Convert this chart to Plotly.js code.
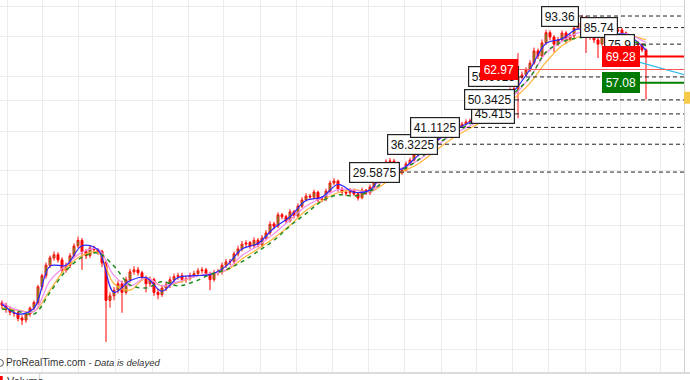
<!DOCTYPE html>
<html>
<head>
<meta charset="utf-8">
<script src="https://cdn.plot.ly/plotly-3.0.1.min.js"></script>
<style>
html,body{margin:0;padding:0;background:#fff;}
#chart{width:690px;height:380px;}
</style>
</head>
<body>
<div id="chart"></div>
<script>
// ---- price bars (one bar per slot) ----
const opens = [11.3,11.1,10.8,10.5,10.5,10.1,9.95,10.4,10.9,11.3,12.7,13.8,14.9,15.7,16.1,15.5,14.4,14.9,16.0,17.2,
17.9,16.5,16.0,16.9,16.7,16.5,15.2,11.5,11.9,12.4,13.0,12.2,13.4,14.2,14.4,14.1,13.6,13.0,13.4,12.2,
12.0,12.6,12.9,13.4,13.7,13.8,13.4,13.5,13.8,14.0,14.3,14.4,14.0,13.4,14.1,14.2,14.9,15.3,15.3,16.2,
16.8,17.4,17.6,17.2,17.9,17.3,18.2,18.9,20.2,19.9,21.6,21.3,20.7,22.1,21.4,23.0,24.1,24.8,24.6,25.5,
24.1,24.3,25.7,27.3,27.7,26.1,25.5,25.4,25.9,25.2,24.5,25.9,25.4,26.5,27.5,28.3,29.6,31.9,32.1,31.7,
29.4,30.0,31.4,32.3,33.6,34.3,35.0,35.7,36.5,37.5,38.3,39.1,40.0,40.6,41.2,41.5,42.1,42.8,43.1,44.0,
44.7,45.7,46.7,47.8,48.9,50.3,51.8,52.6,54.2,54.6,59.4,60.5,62.7,66.0,72.2,69.6,76.6,82.6,80.0,75.9,
78.3,82.4,78.3,80.6,85.4,88.7,92.7,84.2,80.0,78.3,75.9,82.4,80.0,81.6,83.6,84.2,82.4,78.3,77.1,76.6,
75.4,72.7];
const highs = [11.5,11.3,11.0,10.7,10.7,10.3,10.5,11.0,11.5,12.9,14.0,15.2,16.0,16.5,16.4,15.8,15.2,16.3,17.5,18.4,
18.2,16.8,17.2,17.2,16.9,16.7,15.4,12.2,12.7,13.3,13.3,13.7,14.5,14.8,14.7,14.3,13.8,13.7,13.6,12.5,
12.9,13.2,13.7,14.0,14.1,14.1,13.8,14.1,14.3,14.6,14.7,14.6,14.2,14.4,14.5,15.2,15.6,15.6,16.5,17.2,
17.8,17.9,17.8,18.3,18.2,18.6,19.3,20.6,20.5,22.0,21.9,21.6,22.5,22.4,23.5,24.6,25.3,25.2,26.0,25.8,
24.8,26.2,27.8,28.3,28.0,26.5,25.9,26.3,26.2,25.5,26.4,26.1,27.0,28.0,28.9,30.1,32.5,32.8,32.6,32.0,
30.6,32.0,32.9,34.2,34.9,35.6,36.3,37.2,38.2,39.0,39.8,40.7,41.3,41.9,42.2,42.8,43.6,43.9,44.8,45.5,
46.5,47.5,48.6,49.8,51.2,52.7,53.6,55.2,55.6,71.1,62.0,64.0,67.5,74.0,73.5,78.5,84.5,84.0,81.0,80.0,
84.0,83.5,82.0,87.0,90.5,94.1,92.9,85.5,81.5,79.5,83.8,83.5,83.0,85.0,85.8,85.5,83.3,79.5,78.5,77.8,
76.5,73.5];
const lows = [10.8,10.5,10.3,10.2,9.85,9.6,9.75,10.2,10.7,11.1,12.4,13.5,14.6,15.4,15.2,14.1,14.1,14.6,15.7,16.9,
14.4,15.6,15.7,16.3,16.1,14.7,8.47,10.9,11.5,12.1,10.5,12.0,13.1,13.9,13.8,13.3,12.2,12.7,11.9,11.6,
11.8,12.3,12.6,13.1,13.4,13.1,13.1,13.3,13.6,13.8,14.0,13.7,12.4,13.2,13.8,13.9,14.6,14.9,15.0,15.9,
16.5,17.0,16.8,16.9,17.0,17.0,17.9,18.6,19.4,19.6,20.9,20.3,20.4,21.0,21.1,22.7,23.8,24.1,24.2,23.7,
23.7,23.9,25.3,26.9,25.6,25.0,24.8,24.9,24.8,24.0,24.2,25.0,25.0,26.2,27.2,27.9,29.2,31.4,31.0,28.9,
29.0,29.7,31.0,32.0,33.2,34.0,34.6,35.4,36.2,37.1,38.0,38.8,39.5,40.2,40.7,41.1,41.7,42.3,42.6,43.6,
44.3,45.3,46.3,47.3,48.4,49.8,51.2,52.1,53.6,44.0,58.5,59.8,61.9,65.2,68.0,68.8,75.5,78.0,71.5,74.8,
77.2,76.0,77.5,79.5,84.3,87.8,71.1,78.4,76.5,68.5,75.0,78.0,79.0,80.8,82.8,81.0,77.0,75.8,75.5,74.2,
71.5,50.5];
const closes = [11.1,10.78,10.54,10.47,10.07,9.95,10.38,10.86,11.33,12.71,13.8,14.9,15.74,16.1,15.5,14.4,14.9,15.98,17.17,17.9,
16.46,15.98,16.93,16.7,16.46,15.16,11.5,11.9,12.4,13.0,12.2,13.4,14.2,14.4,14.1,13.6,13.0,13.4,12.2,12.0,
12.6,12.9,13.4,13.7,13.8,13.4,13.5,13.8,14.0,14.3,14.4,14.0,13.4,14.1,14.2,14.9,15.27,15.27,16.2,16.8,
17.4,17.55,17.17,17.9,17.3,18.2,18.9,20.15,19.86,21.6,21.3,20.65,22.07,21.44,23.03,24.1,24.8,24.63,25.54,24.1,
24.28,25.71,27.3,27.7,26.1,25.54,25.35,25.9,25.18,24.46,25.9,25.35,26.5,27.5,28.3,29.55,31.9,32.1,31.65,29.35,
30.0,31.4,32.3,33.6,34.3,34.95,35.7,36.5,37.5,38.3,39.1,40.0,40.6,41.2,41.5,42.1,42.8,43.1,44.0,44.7,
45.7,46.7,47.8,48.9,50.3,51.8,52.6,54.2,54.6,59.4,60.5,62.7,66.0,72.2,69.6,76.6,82.6,80.0,75.9,78.3,
82.4,78.3,80.6,85.4,88.7,92.7,84.2,80.0,78.3,75.9,82.4,80.0,81.6,83.6,84.2,82.4,78.3,77.1,76.6,75.4,
72.7,69.28];

// ---- moving averages (sampled at these bars) ----
const maBars = [0,4,8,12,16,20,24,28,32,36,40,44,48,52,56,60,64,68,72,76,80,84,88,92,96,100,104,108,112,116,120,124,128,132,136,140,144,148,152,156,160,161];
const maBlue = [11.2,10.4,10.85,14.8,14.9,17.2,16.7,12.2,13.3,13.6,12.3,13.6,13.8,13.9,14.8,16.8,17.5,19.6,21.3,24.0,24.6,27.0,25.5,25.9,29.9,30.3,33.4,36.6,39.9,42.1,44.8,49.0,53.8,63.0,76.3,78.9,84.9,80.8,81.3,81.6,74.9,72.5];
const maPink = [11.3,10.7,10.6,13.3,14.9,16.4,16.8,13.8,12.8,13.6,12.8,13.2,13.7,14.0,14.4,16.0,17.2,18.8,20.8,23.0,24.5,26.0,25.9,25.6,28.3,30.4,32.2,35.3,38.6,41.0,43.6,47.2,52.0,59.5,71.0,77.5,82.5,83.0,80.8,82.0,78.0,77.0];
const maOrange = [10.9,10.7,10.6,12.4,14.6,16.0,16.4,13.0,12.4,13.6,12.8,13.1,13.7,14.0,14.3,15.6,16.8,18.2,20.0,22.3,24.0,25.4,26.0,25.6,27.4,29.6,31.4,34.3,37.5,40.2,42.9,46.2,50.8,57.0,66.5,75.0,80.0,82.5,81.0,81.5,79.0,78.5];
const maGreen = [10.8,10.6,10.4,12.2,14.3,15.8,16.3,14.8,12.9,12.6,13.2,12.8,13.2,13.9,14.4,15.3,16.5,17.9,19.9,21.8,23.9,25.0,24.8,25.7,27.9,30.0,32.3,35.8,38.6,41.5,44.4,48.1,52.9,59.4,71.6,77.1,79.5,80.2,79.5,78.3,76.0,74.9];

// ---- price level labels ----
const levelValues = [29.5875,36.3225,41.1125,45.415,50.3425,59.6025,62.97,93.36,85.74,75.9,69.28,57.08];
const levelText   = ['29.5875','36.3225','41.1125','45.415','50.3425','59.6025','62.97','93.36','85.74','75.9','69.28','57.08'];
const levelFromBar = [99.5,109,114.5,128.25,128.25,129.25,129,144.25,154,158.25,159.5,159.5];
const levelKind = ['box','box','box','box','box','box','red','box','box','box','red','green'];

// trend line (cyan)
const trendBars = [159.5,170.75];
const trendValues = [66.4,60.5];

// grid
const gridBars = [1.25,10,19,28.25,37.5,46.5,55.25,64.5,73.5,82.5,91.5,100.5,109.75,118.5,127.5,136.5,145.75,154.5,164.5];
const gridPrices = [8,10,12,15,20,25,30,40,50,60,80,100];

const barIdx = closes.map((_, i) => i);
const xEnd = 170.5;

const traces = [];
traces.push({
  type: 'candlestick', x: barIdx, open: opens, high: highs, low: lows, close: closes,
  increasing: {line: {color: '#ff1010', width: 1}, fillcolor: '#22d022'},
  decreasing: {line: {color: '#ff0000', width: 1}, fillcolor: '#ff0000'},
  whiskerwidth: 0, hoverinfo: 'skip'
});
traces.push({type:'scatter', mode:'lines', x: maBars, y: maOrange, line:{color:'#ffb43c', width:1.2, shape:'spline'}, hoverinfo:'skip'});
traces.push({type:'scatter', mode:'lines', x: maBars, y: maPink, line:{color:'#f08cf0', width:1.2, shape:'spline'}, hoverinfo:'skip'});
traces.push({type:'scatter', mode:'lines', x: maBars, y: maBlue, line:{color:'#2828ff', width:1.2, shape:'spline'}, hoverinfo:'skip'});
traces.push({type:'scatter', mode:'lines', x: maBars, y: maGreen, line:{color:'#1e8c1e', width:1.5, dash:'4px,4px', shape:'spline'}, hoverinfo:'skip'});
traces.push({type:'scatter', mode:'lines', x: trendBars, y: trendValues, line:{color:'#33bbee', width:1.3}, hoverinfo:'skip'});

const annotations = [];
levelValues.forEach((v, k) => {
  const kind = levelKind[k];
  let lineStyle;
  if (kind === 'red' && levelText[k] === '62.97') lineStyle = {color:'#ff5a5a', width:1};
  else if (kind === 'red') lineStyle = {color:'#ff0000', width:2};
  else if (kind === 'green') lineStyle = {color:'#008000', width:2};
  else lineStyle = {color:'#222', width:1, dash:'4px,3px'};
  traces.push({type:'scatter', mode:'lines', x:[levelFromBar[k], xEnd], y:[v, v], line: lineStyle, hoverinfo:'skip'});
  const bg = kind === 'red' ? '#ff0000' : (kind === 'green' ? '#007a00' : '#ffffff');
  const fc = kind === 'box' ? '#111' : '#ffffff';
  annotations.push({
    x: levelFromBar[k], y: Math.log10(v), xref:'x', yref:'y', xanchor:'right', yanchor:'middle',
    text: levelText[k], showarrow:false, bgcolor: bg,
    bordercolor: kind === 'box' ? '#222' : bg, borderwidth: 1.2, borderpad: 2.5,
    font: {family:'Liberation Sans, Arial, sans-serif', size: 12, color: fc}
  });
});

annotations.push({xref:'paper', yref:'paper', x:0.006, y:0.027, xanchor:'left', yanchor:'middle', showarrow:false,
  text:'ProRealTime.com <span style="font-size:9px">-</span> <i style="font-size:9.5px">Data is delayed</i>',
  font:{family:'Liberation Sans, Arial, sans-serif', size:10, color:'#333'}});
annotations.push({xref:'paper', yref:'paper', x:0.008, y:-0.022, xanchor:'left', yanchor:'middle', showarrow:false,
  text:'Volume', font:{family:'Liberation Sans, Arial, sans-serif', size:11, color:'#333'}});

const shapes = [
  {type:'line', xref:'paper', yref:'paper', x0:0, x1:1.01, y0:0, y1:0, line:{color:'#cfcfcf', width:1.5}},
  {type:'line', xref:'paper', yref:'paper', x0:0.058, x1:0.058, y0:0, y1:-0.03, line:{color:'#cfcfcf', width:1}},
  {type:'rect', xref:'paper', yref:'paper', x0:0, x1:0.004, y0:-0.008, y1:-0.03, fillcolor:'#ff0000', line:{width:0}},
  {type:'circle', xref:'paper', yref:'paper', x0:-0.004, x1:0.005, y0:0.018, y1:0.036, fillcolor:'#ffffff', line:{color:'#555', width:1}},
  {type:'rect', xref:'paper', yref:'paper', x0:1.0, x1:1.012, y0:0.722, y1:0.754, fillcolor:'#f7c948', line:{width:0}}
];

const layout = {
  width: 690, height: 380,
  margin: {l:0, r:6, t:0, b:7},
  paper_bgcolor:'#ffffff', plot_bgcolor:'#ffffff',
  showlegend:false, hovermode:false,
  xaxis: {range:[-0.5, xEnd], tickvals: gridBars, showticklabels:false, showgrid:true, gridcolor:'#ececec', gridwidth:1,
          zeroline:false, showline:false, rangeslider:{visible:false}, fixedrange:true},
  yaxis: {type:'log', range:[0.8285, 2.0214], tickvals: gridPrices, showticklabels:false, showgrid:true, gridcolor:'#ececec',
          gridwidth:1, zeroline:false, side:'right', showline:true, linecolor:'#d0d0d0', linewidth:1, fixedrange:true},
  annotations: annotations, shapes: shapes
};

Plotly.newPlot('chart', traces, layout, {staticPlot:true, displayModeBar:false});
</script>
</body>
</html>
